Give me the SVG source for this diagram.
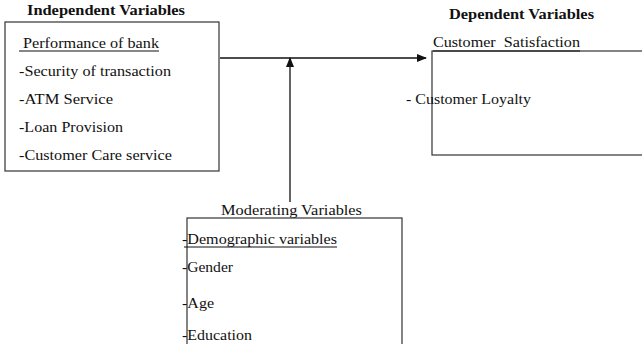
<svg xmlns="http://www.w3.org/2000/svg" width="642" height="344" viewBox="0 0 642 344">
<defs>
<style>
text{font-family:"Liberation Serif","Times New Roman",serif;font-size:15px;fill:#111}
.t{font-weight:bold}
.box{fill:#fff;stroke:#333;stroke-width:1.2}
.ln{stroke:#111;stroke-width:1.3;fill:none}
.ul{stroke:#111;stroke-width:1}
</style>
<marker id="ah" markerWidth="10" markerHeight="8" refX="9" refY="4" orient="auto" markerUnits="userSpaceOnUse">
<path d="M0,0 L10,4 L0,8 Z" fill="#111"/>
</marker>
</defs>
<rect width="642" height="344" fill="#fff"/>
<g id="connectors">
<line class="ln" x1="220" y1="58" x2="426" y2="58" marker-end="url(#ah)"/>
<line class="ln" x1="290" y1="202" x2="290" y2="58" marker-end="url(#ah)"/>
</g>
<g id="independent">
<text class="t" x="27" y="15" textLength="158" lengthAdjust="spacingAndGlyphs">Independent Variables</text>
<rect class="box" x="5" y="22" width="214" height="149"/>
<text x="23" y="48" textLength="136" lengthAdjust="spacingAndGlyphs">Performance of bank</text>
<line class="ul" x1="19" y1="51" x2="159" y2="51"/>
<text x="19" y="76" textLength="152" lengthAdjust="spacingAndGlyphs">-Security of transaction</text>
<text x="19" y="104" textLength="94" lengthAdjust="spacingAndGlyphs">-ATM Service</text>
<text x="19" y="132" textLength="104" lengthAdjust="spacingAndGlyphs">-Loan Provision</text>
<text x="19" y="160" textLength="153" lengthAdjust="spacingAndGlyphs">-Customer Care service</text>
</g>
<g id="dependent">
<text class="t" x="449" y="19" textLength="145" lengthAdjust="spacingAndGlyphs">Dependent Variables</text>
<rect class="box" x="432" y="51" width="220" height="104"/>
<text x="433" y="47" textLength="147" lengthAdjust="spacingAndGlyphs">Customer&#160; Satisfaction</text>
<line class="ul" x1="433" y1="51" x2="580" y2="51"/>
<text x="406" y="104" textLength="125" lengthAdjust="spacingAndGlyphs">- Customer Loyalty</text>
</g>
<g id="moderating">
<text x="221" y="215" textLength="141" lengthAdjust="spacingAndGlyphs">Moderating Variables</text>
<rect class="box" x="187" y="218" width="215" height="140"/>
<text x="182" y="244" textLength="155" lengthAdjust="spacingAndGlyphs">-Demographic variables</text>
<line class="ul" x1="184" y1="247" x2="337" y2="247"/>
<text x="182" y="272" textLength="51" lengthAdjust="spacingAndGlyphs">-Gender</text>
<text x="182" y="308" textLength="32" lengthAdjust="spacingAndGlyphs">-Age</text>
<text x="182" y="340" textLength="70" lengthAdjust="spacingAndGlyphs">-Education</text>
</g>
</svg>
